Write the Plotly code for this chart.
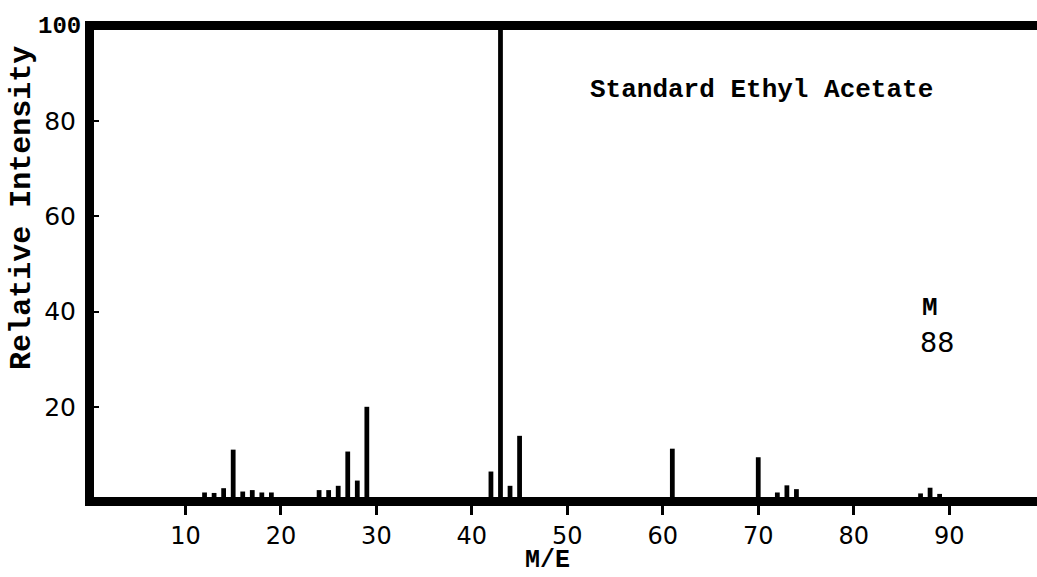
import plotly.graph_objects as go

# m/z values and relative intensities
mz = [12, 13, 14, 15, 16, 17, 18, 19, 24, 25, 26, 27, 28, 29,
      42, 43, 44, 45, 61, 70, 72, 73, 74, 87, 88, 89]
intensity = [2.0, 1.9, 2.9, 11.0, 2.2, 2.5, 2.0, 2.0, 2.5, 2.5, 3.4, 10.6, 4.5, 20.0,
             6.4, 100.0, 3.4, 13.9, 11.2, 9.4, 2.0, 3.5, 2.7, 1.8, 3.0, 1.7]

x_ticks = [10, 20, 30, 40, 50, 60, 70, 80, 90]
y_ticks = [20, 40, 60, 80]
y_top_tick = 100

title_text = "Standard Ethyl Acetate"
x_title = "M/E"
y_title = "Relative Intensity"

TYPE = "Liberation Mono"
HAND = "DejaVu Sans"

y_range = [1.05, 99.16]
# the 100 label lies on the frame line, just above the plotting range
y_top_paper = (y_top_tick - y_range[0]) / (y_range[1] - y_range[0])

fig = go.Figure()
fig.add_trace(go.Bar(x=mz, y=intensity, width=0.5,
                     marker=dict(color="black", line=dict(width=0)),
                     showlegend=False))

fig.update_layout(
    width=1037, height=577,
    margin=dict(l=94, r=0, t=30, b=80, pad=0),
    paper_bgcolor="white", plot_bgcolor="white",
    xaxis=dict(range=[0.42, 99.2], tickvals=x_ticks, ticks="outside", ticklen=9,
               tickwidth=3, tickcolor="black", showline=True, linewidth=9,
               linecolor="black", mirror=True, showgrid=False, zeroline=False,
               tickfont=dict(family=HAND, size=24, color="black")),
    yaxis=dict(range=y_range, tickvals=y_ticks,
               ticks="inside", ticklen=5, tickwidth=2, tickcolor="black",
               showline=True, linewidth=9, linecolor="black", mirror=False,
               showgrid=False, zeroline=False, ticklabelstandoff=4,
               tickfont=dict(family=HAND, size=25, color="black")),
    annotations=[
        dict(x=0, y=y_top_paper, xref="paper", yref="paper", text=str(y_top_tick),
             showarrow=False, xanchor="right", yanchor="middle", xshift=-11,
             font=dict(family=TYPE, size=24, color="black", weight="bold")),
        dict(x=70.3, y=86.6, xref="x", yref="y", text=title_text, showarrow=False,
             font=dict(family=TYPE, size=26, color="black", weight="bold")),
        dict(x=88.0, y=40.8, xref="x", yref="y", text="M", showarrow=False,
             font=dict(family=TYPE, size=26, color="black", weight="bold")),
        dict(x=88.7, y=33.6, xref="x", yref="y", text="88", showarrow=False,
             font=dict(family=HAND, size=27, color="black")),
        dict(x=47.9, y=-0.135, xref="x", yref="paper", text=x_title, showarrow=False,
             yanchor="middle",
             font=dict(family=TYPE, size=25, color="black", weight="bold")),
        dict(x=-0.0764, y=0.619, xref="paper", yref="paper", text=y_title, showarrow=False,
             textangle=-90, xanchor="center", yanchor="middle",
             font=dict(family=TYPE, size=30, color="black", weight="bold")),
    ],
)

fig.write_html("out.html",
               config={"displayModeBar": False},
               post_script="document.body.style.margin='0';"
                           "document.body.style.overflow='hidden';")
